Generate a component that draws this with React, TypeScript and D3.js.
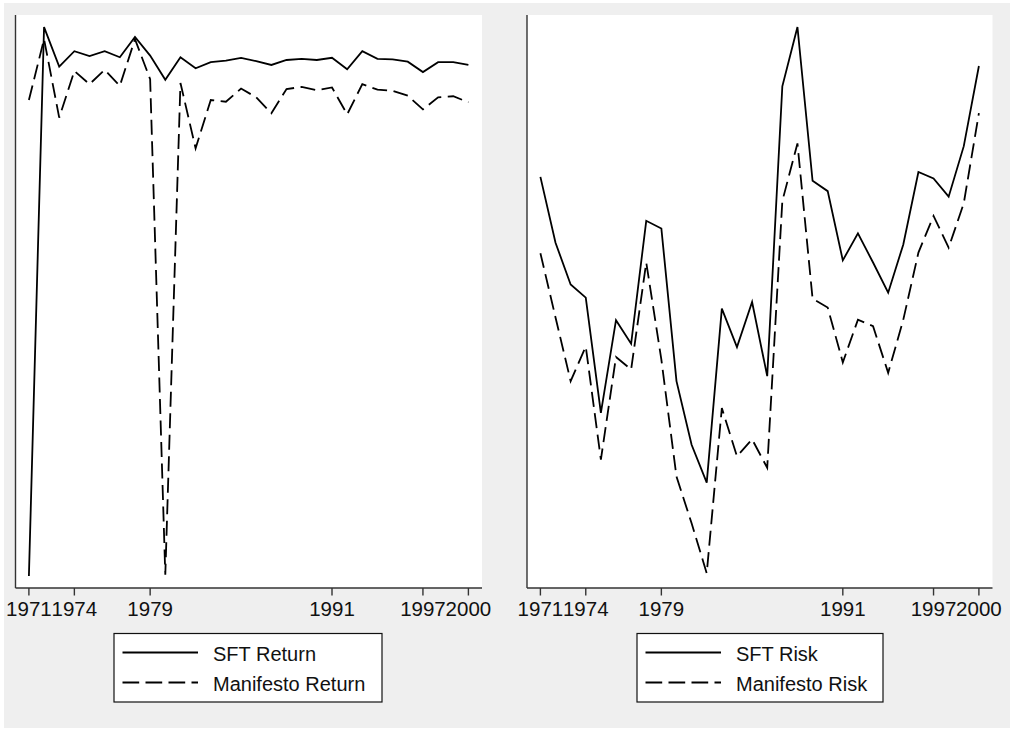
import React from "react";
import * as d3 from "d3";

const years = d3.range(1971, 2001);
const tickYears = [1971, 1974, 1979, 1991, 1997, 2000];

const sftReturn = [0.0, 1.0, 0.928, 0.956, 0.947, 0.956, 0.945, 0.982, 0.948, 0.904,
  0.945, 0.925, 0.936, 0.939, 0.944, 0.938, 0.931, 0.94, 0.942, 0.94,
  0.944, 0.923, 0.956, 0.942, 0.941, 0.937, 0.918, 0.936, 0.936, 0.931];
const manifestoReturn = [0.867, 0.978, 0.835, 0.92, 0.896, 0.922, 0.893, 0.978, 0.905, 0.002,
  0.898, 0.779, 0.867, 0.864, 0.888, 0.872, 0.843, 0.887, 0.891, 0.885,
  0.89, 0.841, 0.896, 0.886, 0.884, 0.875, 0.85, 0.872, 0.874, 0.863];
const sftRisk = [0.727, 0.607, 0.531, 0.507, 0.297, 0.466, 0.423, 0.647, 0.633, 0.355,
  0.239, 0.17, 0.487, 0.417, 0.499, 0.364, 0.892, 1.0, 0.72, 0.701,
  0.575, 0.624, 0.571, 0.516, 0.604, 0.736, 0.724, 0.691, 0.783, 0.929];
const manifestoRisk = [0.588, 0.471, 0.355, 0.418, 0.212, 0.399, 0.376, 0.571, 0.394, 0.181,
  0.096, 0.005, 0.306, 0.218, 0.249, 0.197, 0.683, 0.788, 0.505, 0.489,
  0.389, 0.467, 0.455, 0.37, 0.467, 0.589, 0.656, 0.598, 0.679, 0.843];

const panels = [
  { x0: 15.5, x1: 482, solid: sftReturn, dashed: manifestoReturn, solidLabel: "SFT Return", dashedLabel: "Manifesto Return", legX: 114, legW: 268 },
  { x0: 527, x1: 992.5, solid: sftRisk, dashed: manifestoRisk, solidLabel: "SFT Risk", dashedLabel: "Manifesto Risk", legX: 637, legW: 246 },
];

const FONT = "'Liberation Sans', Arial, Helvetica, sans-serif";
const TOP = 15;
const BOTTOM = 588;
const DASH = "15,6.5";

function Panel({ p }: { p: typeof panels[number] }) {
  const x = d3.scaleLinear().domain([1971, 2000]).range([p.x0 + 13.4, p.x1 - 13.6]);
  const all = [...p.solid, ...p.dashed];
  const lo = d3.min(all)!;
  const hi = d3.max(all)!;
  const pad = (hi - lo) * 0.022;
  const y = d3.scaleLinear().domain([Math.min(lo, 0) - pad, hi + pad]).range([BOTTOM, TOP]);
  const line = d3.line<number>().x((_, i) => x(years[i])).y((d) => y(d));
  return (
    <g>
      <rect x={p.x0} y={TOP} width={p.x1 - p.x0} height={BOTTOM - TOP} fill="#ffffff" />
      <path d={line(p.solid)!} fill="none" stroke="#000" strokeWidth={1.8} strokeLinejoin="miter" />
      <path d={line(p.dashed)!} fill="none" stroke="#000" strokeWidth={1.8} strokeDasharray={DASH} />
      <line x1={p.x0} x2={p.x0} y1={TOP} y2={BOTTOM} stroke="#333" strokeWidth={1.4} />
      <line x1={p.x0} x2={p.x1} y1={BOTTOM} y2={BOTTOM} stroke="#333" strokeWidth={1.4} />
      {tickYears.map((t) => (
        <g key={t}>
          <line x1={x(t)} x2={x(t)} y1={BOTTOM} y2={BOTTOM + 7.5} stroke="#333" strokeWidth={1.4} />
          <text x={x(t)} y={615.5} textAnchor="middle" fontFamily={FONT} fontSize={20.5} fill="#111">{t}</text>
        </g>
      ))}
      <rect x={p.legX} y={633.5} width={p.legW} height={68.5} fill="#fff" stroke="#111" strokeWidth={1.2} />
      <line x1={p.legX + 8.5} x2={p.legX + 84} y1={652.5} y2={652.5} stroke="#000" strokeWidth={1.8} />
      <line x1={p.legX + 8.5} x2={p.legX + 84} y1={682.5} y2={682.5} stroke="#000" strokeWidth={1.8} strokeDasharray="16.7,6.3" />
      <text x={p.legX + 99} y={660.5} fontFamily={FONT} fontSize={20} fill="#111">{p.solidLabel}</text>
      <text x={p.legX + 99} y={690.5} fontFamily={FONT} fontSize={20} fill="#111">{p.dashedLabel}</text>
    </g>
  );
}

export default function App() {
  return (
    <svg width={1013} height={730} style={{ position: "absolute", left: 0, top: 0, display: "block" }}>
      <rect x={0} y={0} width={1013} height={730} fill="#ffffff" />
      <rect x={4} y={3} width={1006} height={725} fill="#efefef" />
      {panels.map((p, i) => (
        <Panel key={i} p={p} />
      ))}
    </svg>
  );
}
